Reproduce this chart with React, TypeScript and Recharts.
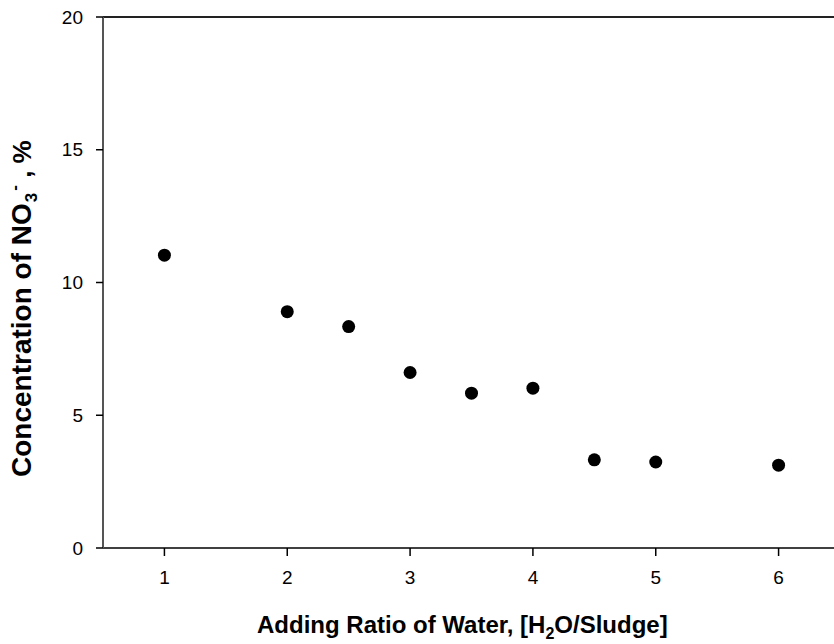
import React from "react";
import { ScatterChart, Scatter, XAxis, YAxis, ReferenceLine } from "recharts";

const ratios = [1, 2, 2.5, 3, 3.5, 4, 4.5, 5, 6];
const nitrate = [11.03, 8.9, 8.34, 6.61, 5.83, 6.02, 3.32, 3.24, 3.12];
const xTicks = [1, 2, 3, 4, 5, 6];
const yTicks = [0, 5, 10, 15, 20];

const points = ratios.map((r, i) => ({ ratio: r, no3: nitrate[i] }));

const FONT = "'Liberation Sans', Arial, sans-serif";

function XTick({ x, y, payload }: any) {
  return (
    <text x={x} y={y} dy="0.71em" textAnchor="middle" fontFamily={FONT} fontSize={19} fill="#000">
      {payload.value}
    </text>
  );
}

function YTick({ x, y, payload }: any) {
  return (
    <text x={x} y={y} dy="0.355em" textAnchor="end" fontFamily={FONT} fontSize={19} fill="#000">
      {payload.value}
    </text>
  );
}

function Dot({ cx, cy }: any) {
  return <circle cx={cx} cy={cy} r={6.5} fill="#000" />;
}

function XTitle() {
  return (
    <text x={257} y={633} textAnchor="start" fontFamily={FONT} fontSize={24} fontWeight="bold" fill="#000">
      Adding Ratio of Water, [H
      <tspan dy={6} fontSize={16}>2</tspan>
      <tspan dy={-6}>O/Sludge]</tspan>
    </text>
  );
}

function YTitle() {
  return (
    <text
      x={31}
      y={477}
      transform="rotate(-90 31 477)"
      textAnchor="start"
      fontFamily={FONT}
      fontSize={28}
      fontWeight="bold"
      fill="#000"
    >
      Concentration of NO
      <tspan dx={1} dy={6} fontSize={17}>3</tspan>
      <tspan dx={2} dy={-17} fontSize={17}>-</tspan>
      <tspan dy={11} fontSize={26}> , %</tspan>
    </text>
  );
}

export default function App() {
  return (
    <div style={{ position: "absolute", left: 0, top: 0, width: 834, height: 644, overflow: "hidden", background: "#fff" }}>
      <ScatterChart width={840} height={644} margin={{ top: 17, right: 0, bottom: 0, left: 0 }}>
        <XAxis
          type="number"
          dataKey="ratio"
          domain={[0.5, 6.5]}
          ticks={xTicks}
          height={96}
          tickSize={8}
          tickMargin={15}
          tick={<XTick />}
          axisLine={{ stroke: "#000", strokeWidth: 1.5 }}
          tickLine={{ stroke: "#000", strokeWidth: 1.5 }}
          label={{ content: () => <XTitle /> }}
        />
        <YAxis
          type="number"
          dataKey="no3"
          domain={[0, 20]}
          ticks={yTicks}
          width={103}
          tickSize={7}
          tickMargin={13}
          tick={<YTick />}
          axisLine={{ stroke: "#555", strokeWidth: 2 }}
          tickLine={{ stroke: "#000", strokeWidth: 1.5 }}
          label={{ content: () => <YTitle /> }}
        />
        <ReferenceLine y={20} stroke="#222" strokeWidth={2} />
        <Scatter data={points} shape={<Dot />} isAnimationActive={false} />
      </ScatterChart>
    </div>
  );
}
